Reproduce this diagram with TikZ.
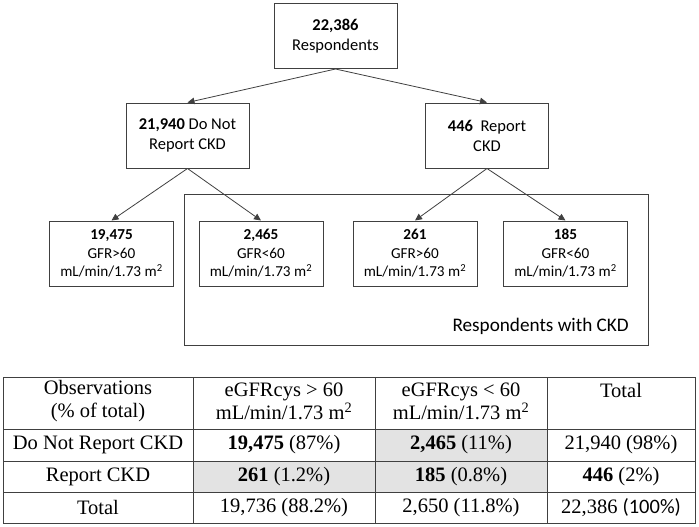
\documentclass[tikz,border=0pt]{standalone}
\usepackage{fontspec}
\setmainfont{Liberation Serif}
\newfontfamily\calfont{Carlito}
\usetikzlibrary{arrows.meta,positioning}
\definecolor{edgegray}{HTML}{404040}
\definecolor{cellgray}{HTML}{E3E3E3}
\tikzset{
  box/.style={draw=edgegray, line width=1pt, minimum width=123pt, minimum height=65pt,
    inner sep=0pt, align=center, font=\calfont\fontsize{16.5}{20}\selectfont},
  leaf/.style={box, minimum width=124pt, font=\calfont\fontsize{15.2}{18.5}\selectfont},
  flow/.style={draw=edgegray, line width=0.8pt, -{Triangle[length=7pt,width=6.5pt]}},
  tabline/.style={draw=edgegray, line width=0.9pt},
  cell/.style={inner sep=0pt, align=center, font=\fontsize{20.5}{23}\selectfont}
}
\begin{document}
\begin{tikzpicture}[x=1pt,y=-1pt]
  \useasboundingbox (0,0) rectangle (699,527);

  % Tree
  \node[box] (resp) at (335.5,36) {\textbf{22,386}\\Respondents};
  \node[box] (notrep) at (187.5,135.5) {\textbf{21,940} Do Not\\Report CKD};
  \node[box] (rep) at (487,135.5) {\textbf{446}~ Report\\CKD};

  % CKD group
  \node[draw=edgegray, line width=1pt, minimum width=464pt, minimum height=151pt, inner sep=0pt] (ckd) at (416,269.5) {};
  \node[anchor=east, inner sep=0pt, font=\calfont\fontsize{19.2}{22}\selectfont] (ckdlabel) at (629,326) {Respondents with CKD};

  \node[leaf] (hiA) at (111.5,253.5) {\textbf{19,475}\\GFR>60\\mL/min/1.73 m\textsuperscript{2}};
  \node[leaf] (loA) at (261,253.5) {\textbf{2,465}\\GFR<60\\mL/min/1.73 m\textsuperscript{2}};
  \node[leaf] (hiB) at (415,253.5) {\textbf{261}\\GFR>60\\mL/min/1.73 m\textsuperscript{2}};
  \node[leaf] (loB) at (565.5,253.5) {\textbf{185}\\GFR<60\\mL/min/1.73 m\textsuperscript{2}};

  \draw[flow] (resp.south) -- (notrep.north);
  \draw[flow] (resp.south) -- (rep.north);
  \draw[flow] (notrep.south) -- (hiA.north);
  \draw[flow] (notrep.south) -- (loA.north);
  \draw[flow] (rep.south) -- (hiB.north);
  \draw[flow] (rep.south) -- (loB.north);

  % Table
  \fill[cellgray] (375,429) rectangle (547,461);
  \fill[cellgray] (193,461) rectangle (547,492);
  \foreach \y in {429,461,492} {
    \draw[tabline] (3,\y) -- (695,\y);
  }
  \foreach \x in {193,375,547} {
    \draw[tabline] (\x,377) -- (\x,523);
  }
  \draw[tabline] (3,377) rectangle (695,523);

  \node[cell] (hobs) at (98,401.5) {Observations\\(\% of total)};
  \node[cell] (hhi) at (284,401.5) {eGFRcys > 60\\mL/min/1.73 m\textsuperscript{2}};
  \node[cell] (hlo) at (461,401.5) {eGFRcys < 60\\mL/min/1.73 m\textsuperscript{2}};
  \node[cell] (htot) at (621,390) {Total};

  \node[cell] (r1) at (98,445) {Do Not Report CKD};
  \node[cell] (r1hi) at (284,445) {\textbf{19,475} (87\%)};
  \node[cell] (r1lo) at (461,445) {\textbf{2,465} (11\%)};
  \node[cell] (r1tot) at (621,445) {21,940 (98\%)};

  \node[cell] (r2) at (98,476.5) {Report CKD};
  \node[cell] (r2hi) at (284,476.5) {\textbf{261} (1.2\%)};
  \node[cell] (r2lo) at (461,476.5) {\textbf{185} (0.8\%)};
  \node[cell] (r2tot) at (621,476.5) {\textbf{446} (2\%)};

  \node[cell] (r3) at (98,507.5) {Total};
  \node[cell] (r3hi) at (284,507.5) {19,736 (88.2\%)};
  \node[cell] (r3lo) at (461,507.5) {2,650 (11.8\%)};
  \node[cell] (r3tot) at (621,507.5) {22,386 {\calfont(100\%)}};
\end{tikzpicture}
\end{document}
